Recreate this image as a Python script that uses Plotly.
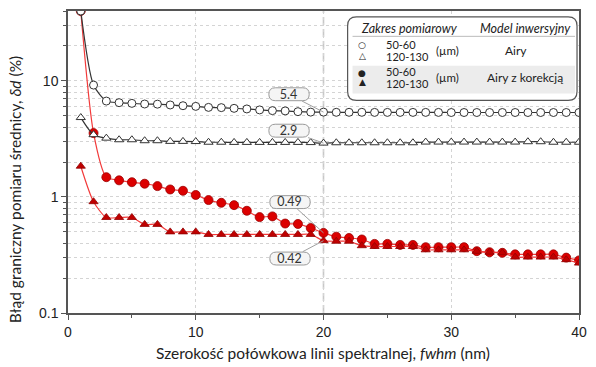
import math
import plotly.graph_objects as go

# ---------------- data ----------------
fwhm = list(range(1, 41))

airy_50_60 = [40.0, 9.2, 6.7, 6.49, 6.4, 6.32, 6.3, 6.2, 6.11, 6.03,
              5.91, 5.88, 5.8, 5.73, 5.62, 5.54, 5.51, 5.43, 5.38, 5.38,
              5.36, 5.36, 5.36, 5.35, 5.35, 5.35, 5.35, 5.35, 5.35, 5.34,
              5.34, 5.34, 5.34, 5.34, 5.34, 5.34, 5.34, 5.34, 5.34, 5.34]

airy_120_130 = [4.83, 3.44, 3.21, 3.11, 3.11, 3.05, 3.05, 3.01, 3.01, 3.0,
                2.96, 2.96, 2.95, 2.95, 2.95, 2.95, 2.95, 2.95, 2.94, 2.91,
                2.93, 2.93, 2.93, 2.93, 2.93, 2.93, 2.93, 2.97, 2.97, 2.97,
                2.97, 2.97, 2.97, 2.97, 2.97, 2.99, 2.99, 2.96, 2.96, 2.96]

korekcja_50_60 = [40.0, 3.55, 1.48, 1.39, 1.34, 1.30, 1.24, 1.16, 1.13, 1.04,
                  0.94, 0.89, 0.85, 0.76, 0.67, 0.68, 0.59, 0.585, 0.54, 0.49,
                  0.455, 0.443, 0.43, 0.394, 0.394, 0.386, 0.386, 0.369, 0.369, 0.369,
                  0.369, 0.341, 0.334, 0.33, 0.32, 0.32, 0.32, 0.32, 0.30, 0.284]

korekcja_120_130 = [1.84, 0.91, 0.665, 0.665, 0.665, 0.58, 0.58, 0.50, 0.50, 0.50,
                    0.475, 0.475, 0.475, 0.475, 0.475, 0.475, 0.475, 0.475, 0.475, 0.42,
                    0.415, 0.415, 0.38, 0.374, 0.374, 0.374, 0.374, 0.35, 0.35, 0.35,
                    0.35, 0.34, 0.334, 0.33, 0.303, 0.303, 0.303, 0.303, 0.288, 0.269]

y_tick_vals = [0.1, 1, 10]
y_tick_text = ["0.1", "1", "10"]
x_tick_vals = [0, 10, 20, 30, 40]
x_tick_text = ["0", "10", "20", "30", "40"]

callout_x = 20
callouts = [
    ("5.4", airy_50_60, -35, -18),
    ("2.9", airy_120_130, -35, -12.5),
    ("0.49", korekcja_50_60, -34, -31),
    ("0.42", korekcja_120_130, -34, 18),
]

x_title = "Szerokość połówkowa linii spektralnej, <i>fwhm</i> (nm)"
y_title = "Błąd graniczny pomiaru średnicy, <i>δd</i> (%)"

# ---------------- geometry ----------------
W_FIG, H_FIG = 596, 367
ML, MR, MT, MB = 68, 9, 9, 54
PW = W_FIG - ML - MR
PH = H_FIG - MT - MB
X_RANGE = [0, 40]
Y_RANGE = [-1, math.log10(40)]


def px_to_paper_x(px):
    return (px - ML) / PW


def py_to_paper_y(py):
    return (H_FIG - MB - py) / PH


def data_to_px(x, y):
    px = ML + (x - X_RANGE[0]) / (X_RANGE[1] - X_RANGE[0]) * PW
    py = MT + (Y_RANGE[1] - math.log10(y)) / (Y_RANGE[1] - Y_RANGE[0]) * PH
    return px, py


def rounded_rect(x0, y0, x1, y1, r):
    X = px_to_paper_x
    Y = py_to_paper_y
    pts = [
        f"M {X(x0 + r)},{Y(y0)}",
        f"L {X(x1 - r)},{Y(y0)}",
        f"Q {X(x1)},{Y(y0)} {X(x1)},{Y(y0 + r)}",
        f"L {X(x1)},{Y(y1 - r)}",
        f"Q {X(x1)},{Y(y1)} {X(x1 - r)},{Y(y1)}",
        f"L {X(x0 + r)},{Y(y1)}",
        f"Q {X(x0)},{Y(y1)} {X(x0)},{Y(y1 - r)}",
        f"L {X(x0)},{Y(y0 + r)}",
        f"Q {X(x0)},{Y(y0)} {X(x0 + r)},{Y(y0)}",
        "Z",
    ]
    return " ".join(pts)


FONT_T = "Liberation Sans, Arial, sans-serif"
FONT_C = "Lato, Carlito, sans-serif"
RED_LINE = "#f23a3a"

fig = go.Figure()

fig.add_trace(go.Scatter(
    x=fwhm, y=korekcja_50_60, mode="lines+markers",
    line=dict(color=RED_LINE, width=1.2, shape="spline", smoothing=0.7),
    marker=dict(symbol="circle", size=9, color="#dc0000",
                line=dict(color="#9a0000", width=0.8)),
    showlegend=False))
fig.add_trace(go.Scatter(
    x=fwhm, y=korekcja_120_130, mode="lines+markers",
    line=dict(color=RED_LINE, width=1.2, shape="spline", smoothing=0.7),
    marker=dict(symbol="triangle-up", size=8, color="#c00000",
                line=dict(color="#900000", width=0.8)),
    showlegend=False))
fig.add_trace(go.Scatter(
    x=fwhm, y=airy_50_60, mode="lines+markers",
    line=dict(color="#333333", width=1.2, shape="spline", smoothing=0.7),
    marker=dict(symbol="circle", size=8, color="white",
                line=dict(color="#333333", width=1)),
    showlegend=False))
fig.add_trace(go.Scatter(
    x=fwhm, y=airy_120_130, mode="lines+markers",
    line=dict(color="#333333", width=1.2, shape="spline", smoothing=0.7),
    marker=dict(symbol="triangle-up", size=8, color="white",
                line=dict(color="#333333", width=1)),
    showlegend=False))

minor_y = [k * 10 ** e for e in (-1, 0, 1) for k in range(2, 10) if k * 10 ** e <= 40]

shapes = []
annotations = []

shapes.append(dict(type="line", xref="x", yref="paper", x0=callout_x, x1=callout_x,
                   y0=0, y1=1, layer="below",
                   line=dict(color="#c8c8c8", width=1.6, dash="8px,4px")))

for text, series, ax, ay in callouts:
    val = series[fwhm.index(callout_x)]
    px, py = data_to_px(callout_x, val)
    cx, cy = px + ax, py + ay
    bw, bh = 41, 13
    shapes.append(dict(type="path", xref="paper", yref="paper",
                       path=rounded_rect(cx - bw / 2, cy - bh / 2, cx + bw / 2, cy + bh / 2, 6.5),
                       fillcolor="#f5f5f5", line=dict(color="#9a9a9a", width=1), layer="above"))
    annotations.append(dict(x=callout_x, y=math.log10(val), xref="x", yref="y",
                            text=text, showarrow=True, ax=ax, ay=ay,
                            arrowhead=0, arrowwidth=1, arrowcolor="#a0a0a0",
                            width=bw, height=bh, borderpad=0, standoff=0,
                            font=dict(family=FONT_C, size=12.5, color="#333333")))

shapes.append(dict(type="path", xref="paper", yref="paper",
                   path=rounded_rect(352, 15, 585, 99, 9),
                   fillcolor="white", line=dict(color="#555555", width=1.2), layer="above"))
shapes.append(dict(type="rect", xref="paper", yref="paper",
                   x0=px_to_paper_x(357), x1=px_to_paper_x(583),
                   y0=py_to_paper_y(92), y1=py_to_paper_y(64),
                   fillcolor="#ececec", line=dict(width=0), layer="above"))
shapes.append(dict(type="line", xref="paper", yref="paper",
                   x0=px_to_paper_x(357), x1=px_to_paper_x(583),
                   y0=py_to_paper_y(34.5), y1=py_to_paper_y(34.5),
                   line=dict(color="#bbbbbb", width=1), layer="above"))


def legend_text(text, px, py, xanchor="center", size=11.5, italic=False, family=FONT_C):
    if italic:
        text = f"<i>{text}</i>"
    annotations.append(dict(x=px_to_paper_x(px), y=py_to_paper_y(py), xref="paper", yref="paper",
                            text=text, showarrow=False, xanchor=xanchor, yanchor="middle",
                            font=dict(family=family, size=size, color="#222222")))


legend_text("Zakres pomiarowy", 414.5, 26.5, size=12.5, italic=True)
legend_text("Model inwersyjny", 532.5, 26.5, size=12.5, italic=True)
legend_text("○", 367, 43.3, size=9, family="DejaVu Sans")
legend_text("△", 367, 53.8, size=9, family="DejaVu Sans")
legend_text("●", 367, 71, size=9, family="DejaVu Sans")
legend_text("▲", 367, 80.5, size=9, family="DejaVu Sans")
legend_text("50-60", 389, 42.8, xanchor="left", size=11)
legend_text("120-130", 389, 54.8, xanchor="left", size=11)
legend_text("(µm)", 453, 48.5)
legend_text("Airy", 523, 48.5, size=12)
legend_text("50-60", 389, 70.3, xanchor="left", size=11)
legend_text("120-130", 389, 81.7, xanchor="left", size=11)
legend_text("(µm)", 453, 76)
legend_text("Airy z korekcją", 532.5, 76, size=12)

annotations.append(dict(x=px_to_paper_x(327), y=py_to_paper_y(353), xref="paper", yref="paper",
                        text=x_title, showarrow=False, xanchor="center", yanchor="middle",
                        font=dict(family=FONT_C, size=15.5, color="#222222")))
annotations.append(dict(x=px_to_paper_x(14), y=py_to_paper_y(188.5), xref="paper", yref="paper",
                        text=y_title, showarrow=False, xanchor="center", yanchor="middle",
                        textangle=-90,
                        font=dict(family=FONT_C, size=15.5, color="#222222")))

fig.update_layout(
    width=W_FIG, height=H_FIG,
    margin=dict(l=ML, r=MR, t=MT, b=MB),
    paper_bgcolor="white", plot_bgcolor="white",
    shapes=shapes, annotations=annotations,
    xaxis=dict(range=X_RANGE, tickvals=x_tick_vals, ticktext=x_tick_text,
               ticks="outside", ticklen=5, tickcolor="#555555", tickwidth=1.2,
               showline=True, linecolor="#555555", linewidth=1.5, mirror=True,
               showgrid=True, gridcolor="#d4d4d4", griddash="dot", gridwidth=1,
               zeroline=False,
               minor=dict(dtick=5, ticks="outside", ticklen=3, tickcolor="#555555", showgrid=False),
               tickfont=dict(family=FONT_T, size=14, color="#222222")),
    yaxis=dict(type="log", range=Y_RANGE, tickvals=y_tick_vals, ticktext=y_tick_text,
               ticks="outside", ticklen=5, tickcolor="#555555", tickwidth=1.2,
               showline=True, linecolor="#555555", linewidth=1.5, mirror=True,
               showgrid=True, gridcolor="#d4d4d4", griddash="dot", gridwidth=1,
               zeroline=False,
               minor=dict(tickvals=minor_y, ticks="outside", ticklen=3, tickcolor="#555555",
                          showgrid=True, gridcolor="#d4d4d4", griddash="dot", gridwidth=1),
               tickfont=dict(family=FONT_T, size=14, color="#222222")),
)

fig.write_html("out.html", config={"displayModeBar": False},
               post_script="document.body.style.margin='0';document.body.style.overflow='hidden';")
